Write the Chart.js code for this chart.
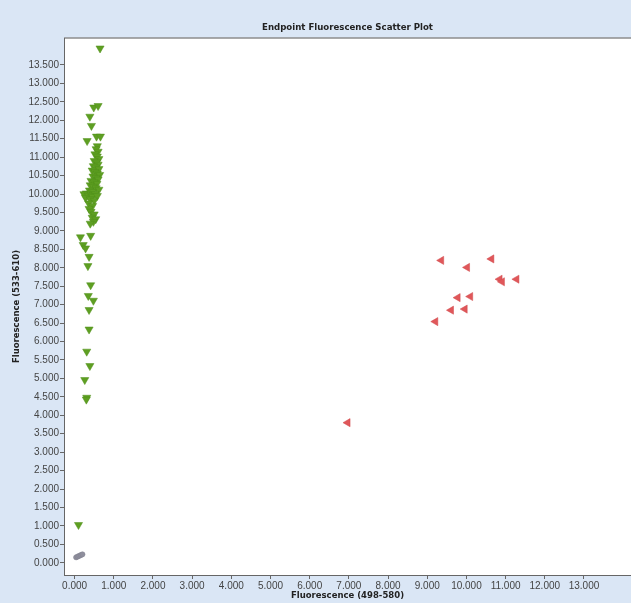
<!DOCTYPE html>
<html>
<head>
<meta charset="utf-8">
<script src="https://cdn.jsdelivr.net/npm/chart.js"></script>
<style>
  html, body { margin: 0; padding: 0; background: #dae6f5; }
</style>
</head>
<body>
<canvas id="grafico" width="631" height="603"></canvas>
<script>
// Datos
const titulo = "Endpoint Fluorescence Scatter Plot";
const tituloX = "Fluorescence (498-580)";
const tituloY = "Fluorescence (533-610)";

const xTicks = [0, 1, 2, 3, 4, 5, 6, 7, 8, 9, 10, 11, 12, 13];
const yTicks = [0, 0.5, 1, 1.5, 2, 2.5, 3, 3.5, 4, 4.5, 5, 5.5, 6, 6.5, 7,
  7.5, 8, 8.5, 9, 9.5, 10, 10.5, 11, 11.5, 12, 12.5, 13, 13.5];

// verdes (triángulo hacia abajo)
const verdeX = [0.65, 0.49, 0.60, 0.39, 0.43, 0.32, 0.56, 0.66,
  0.58, 0.55, 0.60, 0.52, 0.58, 0.62, 0.50, 0.56, 0.60, 0.48, 0.54, 0.62,
  0.45, 0.52, 0.58, 0.64, 0.47, 0.55, 0.60, 0.42, 0.50, 0.57, 0.40, 0.48,
  0.55, 0.62, 0.38, 0.45, 0.30, 0.24, 0.52, 0.35, 0.44, 0.58, 0.28, 0.40,
  0.50, 0.36, 0.46, 0.37, 0.42, 0.50, 0.45, 0.54, 0.48, 0.40,
  0.15, 0.41, 0.22, 0.28, 0.37, 0.34, 0.41, 0.35, 0.48, 0.37, 0.37,
  0.31, 0.39, 0.26, 0.31, 0.30, 0.10];
const verdeY = [13.95, 12.35, 12.39, 12.10, 11.85, 11.44, 11.56, 11.56,
  11.30, 11.22, 11.15, 11.08, 11.02, 10.95, 10.90, 10.86, 10.80, 10.76, 10.72, 10.68,
  10.64, 10.60, 10.56, 10.52, 10.48, 10.44, 10.40, 10.36, 10.32, 10.28, 10.24, 10.20,
  10.16, 10.12, 10.10, 10.06, 10.02, 10.00, 10.00, 9.96, 9.93, 9.95, 9.90, 9.86,
  9.82, 9.75, 9.68, 9.60, 9.52, 9.45, 9.36, 9.32, 9.25, 9.20,
  8.83, 8.87, 8.62, 8.53, 8.30, 8.05, 7.53, 7.24, 7.11, 6.86, 6.33,
  5.73, 5.34, 4.96, 4.48, 4.43, 1.03];

// rojos (triángulo hacia la izquierda)
const rojoX = [9.36, 10.02, 10.64, 11.28, 10.85, 10.91, 9.78, 10.10, 9.61, 9.96, 9.21, 6.97];
const rojoY = [8.20, 8.01, 8.24, 7.69, 7.69, 7.62, 7.19, 7.22, 6.85, 6.88, 6.54, 3.80];

// grises cerca del origen
const grisX = [0.04, 0.08, 0.12, 0.16, 0.20];
const grisY = [0.15, 0.17, 0.19, 0.21, 0.23];

const puntos = (xs, ys) => xs.map((x, i) => ({ x: x, y: ys[i] }));

// fondo azul, área blanca y título
const fondoPlot = {
  id: "fondoPlot",
  beforeDraw(chart) {
    const { ctx, chartArea: a } = chart;
    ctx.save();
    ctx.fillStyle = "#dae6f5";
    ctx.fillRect(0, 0, chart.width, chart.height);
    ctx.fillStyle = "#ffffff";
    ctx.fillRect(a.left, a.top, a.right - a.left, a.bottom - a.top);
    ctx.strokeStyle = "#8c8c8c";
    ctx.lineWidth = 1.5;
    ctx.beginPath();
    ctx.moveTo(a.left, a.top);
    ctx.lineTo(a.right, a.top);
    ctx.stroke();
    ctx.fillStyle = "#222";
    ctx.font = 'bold 8.6px "DejaVu Sans"';
    ctx.textAlign = "center";
    ctx.textBaseline = "middle";
    ctx.fillText(titulo, (a.left + a.right) / 2, 28);
    ctx.restore();
  }
};

const fuenteTicks = { family: '"Liberation Sans", Arial, sans-serif', size: 10 };
const fuenteTitulo = { family: '"DejaVu Sans"', size: 8.5, weight: "bold" };

new Chart(document.getElementById("grafico").getContext("2d"), {
  type: "scatter",
  data: {
    datasets: [
      {
        data: puntos(grisX, grisY),
        pointStyle: "circle",
        pointRadius: 2.6,
        backgroundColor: "#8f8f9d",
        borderColor: "#80808e",
        borderWidth: 0.5
      },
      {
        data: puntos(verdeX, verdeY),
        pointStyle: "triangle",
        rotation: 180,
        pointRadius: 4.7,
        backgroundColor: "#5e9f22",
        borderColor: "#4e8e18",
        borderWidth: 0.5
      },
      {
        data: puntos(rojoX, rojoY),
        pointStyle: "triangle",
        rotation: 270,
        pointRadius: 4.7,
        backgroundColor: "#e0575a",
        borderColor: "#d04a4d",
        borderWidth: 0.5
      }
    ]
  },
  options: {
    responsive: false,
    animation: false,
    layout: { autoPadding: false, padding: { top: 38, left: 0, right: 0, bottom: 0 } },
    plugins: {
      legend: { display: false },
      tooltip: { enabled: false },
      title: { display: false }
    },
    scales: {
      x: {
        type: "linear",
        min: -0.27,
        max: 14.2,
        afterBuildTicks: (s) => { s.ticks = xTicks.map(v => ({ value: v })); },
        afterFit: (s) => { s.height = 28; },
        ticks: {
          autoSkip: false,
          maxRotation: 0,
          padding: 1,
          color: "#444",
          font: fuenteTicks,
          callback: (v) => Number(v).toFixed(3)
        },
        grid: { drawOnChartArea: false, drawTicks: true, tickLength: 4, color: "#666" },
        border: { display: true, color: "#666", width: 1 },
        title: {
          display: true,
          text: tituloX,
          color: "#222",
          font: fuenteTitulo,
          padding: { top: 0, bottom: 2 }
        }
      },
      y: {
        type: "linear",
        min: -0.33,
        max: 14.23,
        afterBuildTicks: (s) => { s.ticks = yTicks.map(v => ({ value: v })); },
        afterFit: (s) => { s.width = 64; },
        ticks: {
          autoSkip: false,
          padding: 1,
          color: "#444",
          font: fuenteTicks,
          callback: (v) => Number(v).toFixed(3)
        },
        grid: { drawOnChartArea: false, drawTicks: true, tickLength: 4, color: "#666" },
        border: { display: true, color: "#666", width: 1 },
        title: {
          display: true,
          text: tituloY,
          color: "#222",
          font: fuenteTitulo,
          padding: { top: 12, bottom: 0 }
        }
      }
    }
  },
  plugins: [fondoPlot]
});
</script>
</body>
</html>
